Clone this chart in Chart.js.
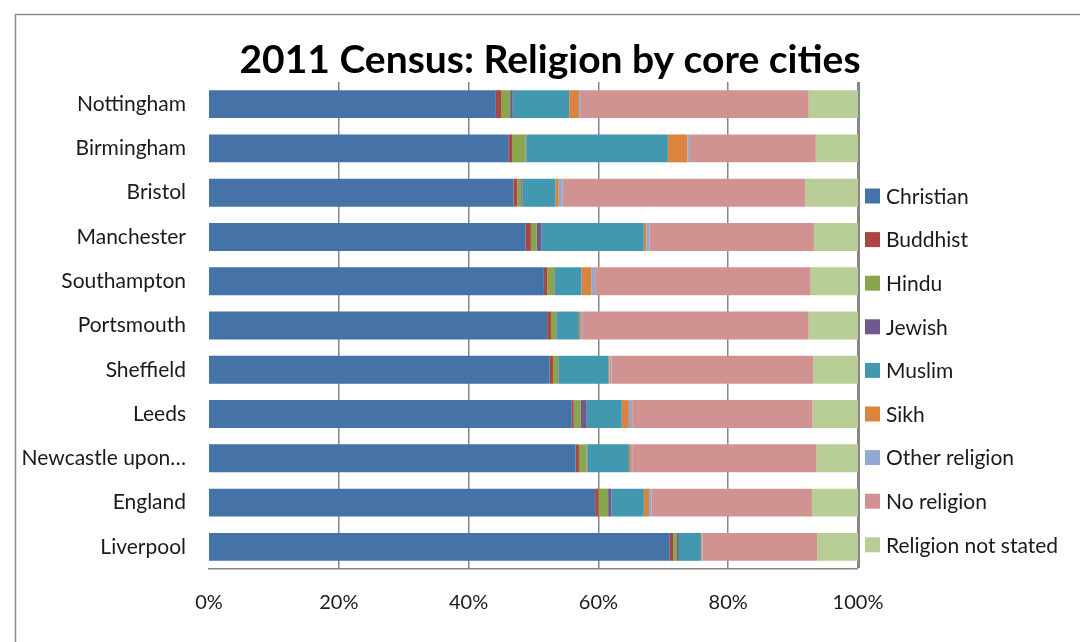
<!DOCTYPE html>
<html>
<head>
<meta charset="utf-8">
<script src="https://cdn.jsdelivr.net/npm/chart.js@4"></script>
<style>
  html, body { margin: 0; padding: 0; background: #fff; }
  #wrap { width: 1080px; height: 642px; position: relative; }
</style>
</head>
<body>
<div id="wrap"><canvas id="chart" width="1080" height="642"></canvas></div>
<script>
// Data (percent of population)
const cities = ['Nottingham', 'Birmingham', 'Bristol', 'Manchester', 'Southampton', 'Portsmouth',
  'Sheffield', 'Leeds', 'Newcastle upon Tyne', 'England', 'Liverpool'];
const religions = ['Christian', 'Buddhist', 'Hindu', 'Jewish', 'Muslim', 'Sikh',
  'Other religion', 'No religion', 'Religion not stated'];
const christian  = [44.2, 46.2, 46.9, 48.8, 51.6, 52.1, 52.5, 55.9, 56.5, 59.5, 71.0];
const buddhist   = [0.8, 0.5, 0.6, 0.8, 0.5, 0.6, 0.5, 0.3, 0.5, 0.5, 0.5];
const hindu      = [1.4, 2.1, 0.6, 0.9, 1.1, 0.8, 0.8, 1.1, 1.2, 1.5, 0.6];
const jewish     = [0.4, 0.1, 0.2, 0.7, 0.1, 0.1, 0.1, 0.9, 0.1, 0.5, 0.3];
const muslim     = [8.7, 21.8, 5.1, 15.8, 4.1, 3.4, 7.6, 5.4, 6.4, 5.0, 3.4];
const sikh       = [1.5, 3.0, 0.5, 0.4, 1.5, 0.3, 0.2, 1.1, 0.3, 0.8, 0.1];
const other      = [0.3, 0.4, 0.6, 0.5, 0.6, 0.3, 0.3, 0.5, 0.2, 0.4, 0.1];
const noReligion = [35.1, 19.4, 37.4, 25.3, 33.2, 34.8, 31.1, 27.8, 28.4, 24.7, 17.7];
const notStated  = [7.6, 6.5, 8.1, 6.8, 7.3, 7.6, 7.0, 7.0, 6.4, 7.1, 6.3];
const xTicks = [0, 20, 40, 60, 80, 100];

const series = [christian, buddhist, hindu, jewish, muslim, sikh, other, noReligion, notStated];
const colors = ['#4572A7', '#AA4643', '#89A54E', '#71588F', '#4198AF', '#DB843D',
  '#93A9CF', '#D19392', '#B9CD96'];

const FONT = 'Lato, "Liberation Sans", sans-serif';
const TEXT = '#1a1a1a';
const GRID = '#868686';

// frame, title and legend drawn on the canvas
const decor = {
  id: 'decor',
  beforeDraw(chart) {
    const c = chart.ctx;
    c.save();
    c.strokeStyle = '#8c8c8c';
    c.lineWidth = 1.5;
    c.beginPath();
    c.moveTo(15.5, 650);
    c.lineTo(15.5, 14.5);
    c.lineTo(1090, 14.5);
    c.stroke();
    c.restore();
  },
  afterDraw(chart) {
    const c = chart.ctx;
    c.save();
    c.fillStyle = '#000';
    c.font = 'bold 39px ' + FONT;
    c.textAlign = 'center';
    c.textBaseline = 'middle';
    c.fillText('2011 Census: Religion by core cities', 550, 60);

    c.font = '21px ' + FONT;
    c.textAlign = 'left';
    chart.data.datasets.forEach((ds, i) => {
      const y = 196 + i * 43.6;
      c.fillStyle = ds.backgroundColor;
      c.fillRect(865, y - 7.5, 15, 15);
      c.fillStyle = TEXT;
      c.fillText(ds.label, 886, y + 1);
    });
    c.restore();
  }
};

new Chart(document.getElementById('chart').getContext('2d'), {
  type: 'bar',
  data: {
    labels: cities,
    datasets: series.map((d, i) => ({
      label: religions[i],
      data: d,
      backgroundColor: colors[i],
      borderWidth: 0,
      barPercentage: 0.63,
      categoryPercentage: 1
    }))
  },
  options: {
    indexAxis: 'y',
    responsive: false,
    animation: false,
    layout: { padding: { left: 20, right: 222, top: 82, bottom: 0 } },
    plugins: {
      legend: { display: false },
      title: { display: false },
      tooltip: { enabled: false }
    },
    scales: {
      x: {
        stacked: true,
        min: 0,
        max: 100,
        afterBuildTicks(scale) { scale.ticks = xTicks.map(v => ({ value: v })); },
        afterFit(scale) { scale.height = 73; },
        grid: {
          color: GRID,
          lineWidth: ctx => {
            const v = ctx.tick ? ctx.tick.value : null;
            if (v === 0) return 0;
            return v === 100 ? 3 : 1.5;
          },
          drawTicks: false
        },
        border: { display: true, color: GRID, width: 1.5 },
        ticks: {
          padding: 22,
          color: TEXT,
          font: { family: FONT, size: 20 },
          callback: v => v + '%'
        }
      },
      y: {
        stacked: true,
        afterFit(scale) { scale.width = 189; },
        grid: { display: false, drawTicks: false },
        border: { display: false },
        ticks: {
          padding: 23,
          color: TEXT,
          font: { family: FONT, size: 21 },
          callback(v) {
            const s = this.getLabelForValue(v);
            return s.length > 15 ? s.slice(0, 14) + '\u2026' : s;
          }
        }
      }
    }
  },
  plugins: [decor]
});
</script>
</body>
</html>
